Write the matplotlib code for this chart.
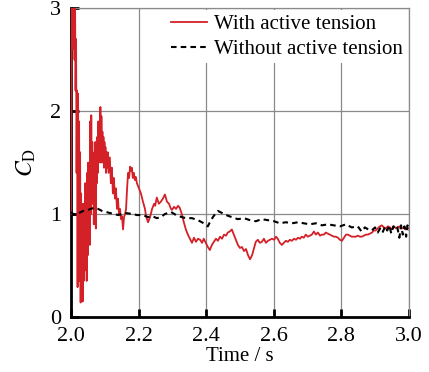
import matplotlib
matplotlib.use("Agg")
import matplotlib.pyplot as plt

# ---- data ----
t_active = [2.0000, 2.0015, 2.0030, 2.0045, 2.0060, 2.0075, 2.0090, 2.0105, 2.0120, 2.0135,
            2.0150, 2.0165, 2.0180, 2.0195, 2.0210, 2.0225, 2.0240, 2.0255, 2.0270, 2.0285,
            2.0300, 2.0315, 2.0330, 2.0345, 2.0360, 2.0375, 2.0390, 2.0405, 2.0420, 2.0435,
            2.0450, 2.0465, 2.0480, 2.0495, 2.0510, 2.0525, 2.0540, 2.0555, 2.0570, 2.0585,
            2.0600, 2.0615, 2.0630, 2.0645, 2.0660, 2.0675, 2.0690, 2.0705, 2.0720, 2.0735,
            2.0750, 2.0765, 2.0780, 2.0795, 2.0810, 2.0825, 2.0840, 2.0855, 2.0870, 2.0885,
            2.0900, 2.0915, 2.0930, 2.0945, 2.0960, 2.0975, 2.0990, 2.1005, 2.1020, 2.1035,
            2.1050, 2.1070, 2.1090, 2.1110,
            2.115, 2.118, 2.121, 2.124, 2.127, 2.130, 2.133, 2.136, 2.139, 2.142,
            2.145, 2.148, 2.151, 2.154, 2.157, 2.160, 2.163, 2.166, 2.169, 2.172,
            2.175, 2.178, 2.180, 2.183, 2.186, 2.189, 2.192, 2.195, 2.201, 2.207,
            2.213, 2.219, 2.222, 2.228, 2.234, 2.240, 2.246, 2.249, 2.254, 2.260,
            2.266, 2.272, 2.278, 2.284, 2.290, 2.296, 2.299, 2.305, 2.311, 2.317,
            2.322, 2.328, 2.334, 2.340, 2.346, 2.352, 2.358, 2.364, 2.370, 2.376,
            2.382, 2.388, 2.393, 2.399, 2.405, 2.411, 2.417, 2.423, 2.429, 2.435,
            2.441, 2.447, 2.453, 2.459, 2.464, 2.470, 2.476, 2.482, 2.488, 2.494,
            2.500, 2.506, 2.512, 2.518, 2.524, 2.530, 2.536, 2.541, 2.547, 2.553,
            2.559, 2.565, 2.571, 2.577, 2.583, 2.589, 2.595, 2.601, 2.607, 2.612,
            2.618, 2.624, 2.630, 2.636, 2.642, 2.648, 2.654, 2.660, 2.666, 2.672,
            2.678, 2.683, 2.689, 2.695, 2.701, 2.707, 2.713, 2.719, 2.725, 2.731,
            2.737, 2.743, 2.749, 2.754, 2.760, 2.766, 2.772, 2.778, 2.784, 2.790,
            2.796, 2.802, 2.808, 2.814, 2.820, 2.825, 2.831, 2.837, 2.843, 2.849,
            2.855, 2.861, 2.867, 2.873, 2.879, 2.885, 2.891, 2.896, 2.902, 2.908,
            2.914, 2.920, 2.926, 2.932, 2.938, 2.944, 2.950, 2.956, 2.962, 2.967,
            2.973, 2.979, 2.985, 2.991, 2.997, 3.000]
cd_active = [1.00, 2.20, 3.30, 2.60, 3.30, 2.80, 3.30, 2.50, 3.10, 2.20,
             2.70, 1.40, 2.20, 0.29, 2.17, 0.60, 1.90, 0.35, 1.60, 0.14,
             1.20, 0.20, 1.00, 0.15, 1.10, 0.35, 0.90, 0.45, 1.30, 0.50,
             1.00, 0.35, 1.40, 0.60, 1.50, 0.80, 1.20, 0.70, 1.90, 1.00,
             1.96, 1.20, 1.70, 1.10, 1.50, 0.90, 1.60, 1.20, 1.70, 0.86,
             1.50, 1.30, 1.75, 1.40, 1.90, 1.50, 1.80, 1.60, 2.04, 1.50,
             1.95, 1.55, 1.80, 1.50, 1.75, 1.45, 1.70, 1.50, 1.65, 1.40,
             1.60, 1.45, 1.60, 1.40,
             1.55, 1.30, 1.45, 1.20, 1.35, 1.15, 1.25, 1.05, 1.15, 1.00,
             1.05, 0.95, 0.98, 0.85, 0.97, 1.00, 1.05, 1.25, 1.40, 1.35,
             1.46, 1.42, 1.45, 1.35, 1.40, 1.33, 1.36, 1.30, 1.25, 1.20,
             1.12, 1.05, 0.98, 0.92, 0.97, 1.05, 1.10, 1.08, 1.16, 1.10,
             1.12, 1.15, 1.19, 1.12, 1.10, 1.05, 1.04, 1.07, 1.05, 1.08,
             1.06, 1.00, 0.92, 0.85, 0.80, 0.76, 0.72, 0.77, 0.73, 0.76,
             0.75, 0.72, 0.76, 0.72, 0.68, 0.65, 0.70, 0.73, 0.76, 0.74,
             0.78, 0.76, 0.80, 0.79, 0.82, 0.83, 0.85, 0.80, 0.75, 0.70,
             0.67, 0.68, 0.64, 0.66, 0.60, 0.56, 0.60, 0.66, 0.73, 0.75,
             0.72, 0.73, 0.76, 0.72, 0.74, 0.75, 0.76, 0.75, 0.78, 0.76,
             0.72, 0.70, 0.72, 0.74, 0.73, 0.75, 0.74, 0.76, 0.75, 0.77,
             0.76, 0.78, 0.77, 0.80, 0.78, 0.79, 0.80, 0.83, 0.80, 0.82,
             0.79, 0.80, 0.80, 0.82, 0.81, 0.80, 0.79, 0.78, 0.78, 0.77,
             0.75, 0.74, 0.77, 0.80, 0.80, 0.79, 0.78, 0.78, 0.78, 0.79,
             0.78, 0.78, 0.79, 0.80, 0.80, 0.81, 0.82, 0.84, 0.84, 0.86,
             0.88, 0.89, 0.87, 0.86, 0.88, 0.87, 0.85, 0.88, 0.86, 0.87,
             0.88, 0.86, 0.87, 0.85, 0.86, 0.86]

t_passive = [2.000, 2.009, 2.018, 2.036, 2.050, 2.068, 2.080, 2.092, 2.115, 2.140,
             2.160, 2.183, 2.195, 2.213, 2.228, 2.240, 2.254, 2.266, 2.278, 2.296,
             2.311, 2.328, 2.340, 2.358, 2.376, 2.393, 2.405, 2.411, 2.420, 2.429,
             2.435, 2.447, 2.459, 2.476, 2.494, 2.512, 2.530, 2.547, 2.565, 2.583,
             2.601, 2.618, 2.636, 2.654, 2.672, 2.689, 2.707, 2.725, 2.743, 2.760,
             2.778, 2.796, 2.814, 2.831, 2.849, 2.860, 2.870, 2.880, 2.890, 2.900,
             2.908, 2.915, 2.922, 2.930, 2.936, 2.942, 2.948, 2.954, 2.960, 2.966,
             2.972, 2.977, 2.982, 2.987, 2.992, 2.996, 3.000]
cd_passive = [1.02, 0.99, 1.00, 1.03, 1.04, 1.06, 1.05, 1.03, 1.01, 0.99,
              1.01, 1.00, 0.99, 0.99, 0.97, 0.98, 0.96, 0.97, 1.00, 1.02,
              0.99, 0.97, 0.96, 0.96, 0.94, 0.91, 0.88, 0.92, 0.97, 1.01,
              1.03, 1.01, 0.99, 0.97, 0.95, 0.96, 0.94, 0.93, 0.95, 0.94,
              0.93, 0.91, 0.92, 0.91, 0.92, 0.91, 0.90, 0.91, 0.89, 0.90,
              0.89, 0.88, 0.90, 0.87, 0.88, 0.83, 0.87, 0.85, 0.84, 0.87,
              0.82, 0.86, 0.82, 0.88, 0.84, 0.89, 0.81, 0.88, 0.85, 0.87,
              0.77, 0.89, 0.80, 0.88, 0.78, 0.89, 0.84]

xticks = [2.0, 2.2, 2.4, 2.6, 2.8, 3.0]
yticks = [0, 1, 2, 3]

# ---- style ----
plt.rcParams['font.family'] = ['Liberation Serif', 'DejaVu Serif']
plt.rcParams['mathtext.fontset'] = 'stix'
plt.rcParams['lines.scale_dashes'] = False

fig = plt.figure(figsize=(4.29, 3.72), dpi=100)
ax = fig.add_axes([0.1655, 0.148, 0.7875, 0.830])

ax.plot(t_active, cd_active, color='#d42027', lw=1.3, label='With active tension', zorder=3)
ax.plot(t_passive, cd_passive, color='black', lw=1.5, dashes=(4, 3),
        label='Without active tension', zorder=4)

ax.set_xlim(2.0, 3.0)
ax.set_ylim(0, 3)
ax.set_xticks(xticks)
ax.set_xticklabels([f'{v:.1f}' for v in xticks])
ax.set_yticks(yticks)
ax.grid(True, color='#8a8a8a', lw=0.9)
ax.set_axisbelow(True)

for s in ['top', 'right']:
    ax.spines[s].set_color('#8a8a8a')
    ax.spines[s].set_linewidth(0.9)
for s in ['left', 'bottom']:
    ax.spines[s].set_color('black')
    ax.spines[s].set_linewidth(2.0)

ax.tick_params(direction='in', length=6, width=2, labelsize=16, top=False, right=False)
ax.tick_params(axis='x', pad=7)
ax.tick_params(axis='y', pad=7)

ax.set_xlabel('Time / s', fontsize=15, labelpad=1)
ax.set_ylabel(r'$C_{\mathrm{D}}$', fontsize=17, labelpad=9)

leg = ax.legend(loc='upper right', fontsize=15, frameon=True, fancybox=False,
                framealpha=1, edgecolor='none', borderpad=0.2, handlelength=1.75,
                handletextpad=0.3, labelspacing=0.25, borderaxespad=0.1)

fig.savefig('out.png', dpi=100)
